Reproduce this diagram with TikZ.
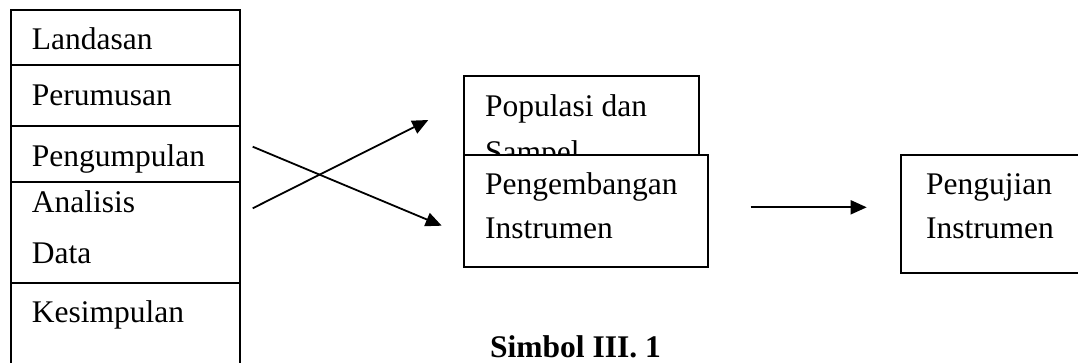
\documentclass[tikz,border=0pt]{standalone}
\usepackage{fontspec}
\setmainfont{Liberation Serif}
\usetikzlibrary{arrows.meta}
\begin{document}
\begin{tikzpicture}[x=1pt,y=-1pt,
  box/.style={draw=black,line width=1.8pt,fill=white,inner sep=0pt,outer sep=0pt,anchor=north west},
  txt/.style={anchor=base west,inner sep=0pt,font=\fontsize{31.5}{40}\selectfont},
  captxt/.style={anchor=base west,inner sep=0pt,font=\fontsize{31.5}{40}\selectfont\bfseries},
  arr/.style={line width=1.8pt,-{Triangle[length=16pt,width=14pt]}}]
\useasboundingbox (0,0) rectangle (1078,363);
% left column
\node[box,minimum width=229pt,minimum height=55pt] (b1) at (11,10) {};
\node[box,minimum width=229pt,minimum height=61pt] (b2) at (11,65) {};
\node[box,minimum width=229pt,minimum height=56pt] (b3) at (11,126) {};
\node[box,minimum width=229pt,minimum height=101pt] (b4) at (11,182) {};
\node[box,minimum width=229pt,minimum height=95pt] (b5) at (11,283) {};
\node[txt] (t1) at (31.7,50) {Landasan};
\node[txt] (t2) at (31.7,106) {Perumusan};
\node[txt] (t3) at (31.7,166.7) {Pengumpulan};
\node[txt] (t4a) at (31.7,213) {Analisis};
\node[txt] (t4b) at (31.7,263) {Data};
\node[txt] (t5) at (31.7,322) {Kesimpulan};
% middle boxes
\node[box,minimum width=235.4pt,minimum height=80pt] (pop) at (463.6,76) {};
\node[txt] (tp1) at (485,116.7) {Populasi dan};
\node[txt] (tp2) at (485,163) {Sampel};
\node[box,minimum width=244.3pt,minimum height=111.7pt] (peng) at (464,155) {};
\node[txt] (tg1) at (485,195) {Pengembangan};
\node[txt] (tg2) at (485,238.3) {Instrumen};
% right box
\node[box,minimum width=190pt,minimum height=118.3pt] (uji) at (901,155) {};
\node[txt] (tu1) at (926,195) {Pengujian};
\node[txt] (tu2) at (926,238.3) {Instrumen};
% connectors
\coordinate (s1) at (252.7,146.7);
\coordinate (e1) at (441.7,225.7);
\coordinate (s2) at (252.7,208.3);
\coordinate (e2) at (428.3,120);
\coordinate (s3) at (750.7,207.3);
\coordinate (e3) at (866.7,207.3);
\draw[arr] (s1) -- (e1);
\draw[arr] (s2) -- (e2);
\draw[arr] (s3) -- (e3);
% caption
\node[captxt] (caption) at (490,357) {Simbol III. 1};
\end{tikzpicture}
\end{document}
